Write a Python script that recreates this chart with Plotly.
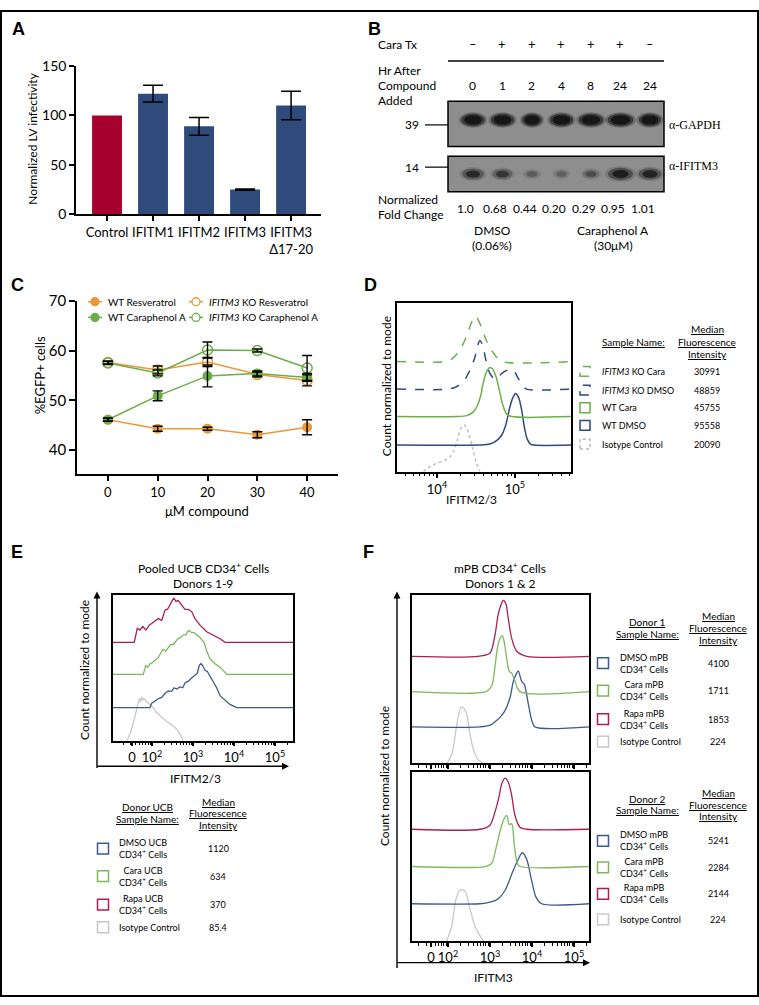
import plotly.graph_objects as go

W, H = 759, 1005
FONT = "Lato"
BOLD = "Liberation Sans"


def X(p):
    return p / W


def Y(p):
    return 1 - p / H


# ===================== DATA =====================
# ---- Panel A
A_CATEGORIES = ["Control", "IFITM1", "IFITM2", "IFITM3", "IFITM3<br>Δ17-20"]
A_VALUES = [100, 122, 89, 25, 110]
A_ERRORS = [0, 8.5, 9.0, 0.6, 14.5]
A_COLORS = ["#A6002E", "#2F4B7C", "#2F4B7C", "#2F4B7C", "#2F4B7C"]

# ---- Panel B
B_LANES = [0, 1, 2, 3, 4, 5, 6]
B_CARA_TX = ["–", "+", "+", "+", "+", "+", "–"]
B_HOURS = ["0", "1", "2", "4", "8", "24", "24"]
B_FOLD_LABELS = ["1.0", "0.68", "0.44", "0.20", "0.29", "0.95", "1.01"]
B_GAPDH_SIGNAL = [1.0, 1.0, 0.85, 1.0, 1.05, 1.1, 0.95]
B_IFITM3_SIGNAL = [0.85, 0.7, 0.35, 0.3, 0.45, 1.1, 0.95]

# ---- Panel C
C_DOSE = [0, 10, 20, 30, 40]
C_WT_RES = [46.1, 44.3, 44.3, 43.1, 44.6]
C_WT_RES_ERR = [0.3, 0.5, 0.3, 0.6, 1.5]
C_KO_RES = [57.6, 56.1, 57.7, 55.2, 54.0]
C_KO_RES_ERR = [0.3, 0.8, 0.9, 0.5, 1.1]
C_WT_CARA = [46.1, 50.9, 54.9, 55.4, 54.6]
C_WT_CARA_ERR = [0.3, 1.0, 2.2, 0.5, 0.8]
C_KO_CARA = [57.5, 55.5, 60.1, 60.0, 56.5]
C_KO_CARA_ERR = [0.3, 0.6, 1.6, 0.3, 2.5]

# ---- Panel D (log10 fluorescence, count in % of mode)
D_KO_CARA_LOG = [4.111, 4.188, 4.273, 4.329, 4.381, 4.432, 4.474, 4.5, 4.529, 4.573, 4.628, 4.701, 4.765, 4.829]
D_KO_CARA_CNT = [0, 5, 19, 34, 52, 75, 90, 93, 85, 69, 45, 23, 9, 0]
D_KO_DMSO_LOG = [4.145, 4.253, 4.359, 4.432, 4.487, 4.522, 4.551, 4.586, 4.628, 4.679, 4.744, 4.799, 4.859, 4.936, 4.987, 5.042, 5.099, 5.15]
D_KO_DMSO_CNT = [0, 5, 20, 42, 65, 89, 99, 89, 59, 32, 20, 27, 35, 40, 37, 22, 7, 0]
D_WT_CARA_LOG = [4.253, 4.381, 4.465, 4.517, 4.56, 4.603, 4.645, 4.679, 4.714, 4.756, 4.799, 4.842, 4.894, 4.958]
D_WT_CARA_CNT = [0, 2, 9, 22, 42, 75, 94, 100, 97, 82, 55, 25, 5, 0]
D_WT_DMSO_LOG = [4.551, 4.679, 4.765, 4.829, 4.885, 4.927, 4.97, 5.009, 5.047, 5.086, 5.119, 5.158, 5.201, 5.244]
D_WT_DMSO_CNT = [0, 2, 9, 20, 42, 72, 95, 105, 97, 72, 39, 12, 2, 0]
D_ISO_LOG = [3.824, 3.91, 3.996, 4.103, 4.167, 4.218, 4.26, 4.304, 4.346, 4.381, 4.414, 4.458, 4.5, 4.551]
D_ISO_CNT = [0, 10, 17, 23, 30, 43, 63, 87, 95, 90, 73, 47, 20, 0]
D_NAMES = ["<i>IFITM3</i> KO Cara", "<i>IFITM3</i> KO DMSO", "WT Cara", "WT DMSO", "Isotype Control"]
D_MFI = ["30991", "48859", "45755", "95558", "20090"]

# ---- Panel E (log10 fluorescence, count in % of mode)
E_RAPA_LOG = [1.568, 1.641, 1.707, 1.773, 1.854, 1.934, 2.017, 2.073, 2.154, 2.237, 2.317, 2.383, 2.456, 2.505, 2.537,
              2.585, 2.641, 2.724, 2.805, 2.885, 2.968, 3.049, 3.171, 3.334, 3.495, 3.659, 3.78]
E_RAPA_CNT = [0, 32, 28, 36, 28, 39, 45, 47, 54, 50, 73, 76, 90, 97, 100, 93, 95, 84, 75, 75, 70, 54, 39, 24, 17, 8, 0]
E_CARA_LOG = [1.788, 1.846, 1.895, 1.951, 2.017, 2.073, 2.154, 2.237, 2.276, 2.334, 2.383, 2.456, 2.52, 2.578, 2.641,
              2.7, 2.763, 2.829, 2.871, 2.91, 2.968, 3.024, 3.09, 3.154, 3.212, 3.268, 3.334, 3.415, 3.537, 3.7, 3.822]
E_CARA_CNT = [0, 20, 16, 24, 27, 32, 38, 53, 57, 53, 60, 68, 68, 75, 82, 84, 90, 90, 98, 100, 95, 95, 90, 86, 79, 73,
              54, 35, 24, 13, 0]
E_DMSO_LOG = [1.951, 1.993, 2.073, 2.154, 2.237, 2.317, 2.398, 2.48, 2.537, 2.602, 2.683, 2.749, 2.805, 2.885, 2.968,
              3.049, 3.105, 3.154, 3.195, 3.237, 3.293, 3.349, 3.415, 3.495, 3.578, 3.659, 3.78, 3.902, 4.066]
E_DMSO_CNT = [0, 10, 15, 20, 23, 32, 38, 37, 45, 42, 47, 45, 56, 60, 67, 74, 78, 96, 100, 95, 85, 82, 71, 60, 45, 27,
              16, 7, 0]
E_ISO_LOG = [1.39, 1.488, 1.561, 1.627, 1.69, 1.72, 1.749, 1.78, 1.805, 1.871, 1.951, 2.032, 2.115, 2.195, 2.276,
             2.366, 2.48, 2.602, 2.683, 2.756]
E_ISO_CNT = [0, 21, 47, 69, 96, 88, 100, 92, 96, 89, 82, 75, 64, 58, 50, 43, 36, 26, 15, 0]
E_NAMES = ["DMSO UCB<br>CD34<sup>+</sup> Cells", "Cara UCB<br>CD34<sup>+</sup> Cells",
           "Rapa UCB<br>CD34<sup>+</sup> Cells", "Isotype Control"]
E_MFI = ["1120", "634", "370", "85.4"]

# ---- Panel F (log10 fluorescence, count in % of mode)
F1_RAPA_LOG = [2.714, 3.0, 3.119, 3.19, 3.255, 3.317, 3.381, 3.436, 3.517, 3.636, 3.874]
F1_RAPA_CNT = [0, 6, 38, 73, 91, 100, 93, 67, 32, 9, 0]
F1_CARA_LOG = [2.905, 3.04, 3.119, 3.174, 3.238, 3.293, 3.34, 3.398, 3.46, 3.517, 3.595, 3.714]
F1_CARA_CNT = [0, 10, 45, 77, 95, 100, 88, 59, 36, 33, 19, 0]
F1_DMSO_LOG = [2.762, 3.0, 3.119, 3.238, 3.357, 3.476, 3.555, 3.636, 3.674, 3.755, 3.817, 3.912, 3.993, 4.071]
F1_DMSO_CNT = [0, 3, 9, 17, 29, 52, 81, 96, 100, 81, 76, 41, 12, 0]
F1_ISO_LOG = [1.976, 2.095, 2.19, 2.262, 2.31, 2.381, 2.452, 2.524, 2.619, 2.714, 2.833]
F1_ISO_CNT = [0, 17, 60, 90, 100, 98, 86, 52, 21, 7, 0]

F2_RAPA_LOG = [2.762, 3.0, 3.119, 3.221, 3.279, 3.357, 3.436, 3.517, 3.595, 3.714, 3.874]
F2_RAPA_CNT = [0, 8, 34, 66, 89, 100, 92, 66, 27, 4, 0]
F2_CARA_LOG = [2.881, 3.04, 3.159, 3.255, 3.333, 3.398, 3.46, 3.517, 3.579, 3.65, 3.714]
F2_CARA_CNT = [0, 6, 42, 74, 93, 100, 82, 84, 42, 6, 0]
F2_DMSO_LOG = [2.762, 3.0, 3.198, 3.357, 3.517, 3.636, 3.769, 3.874, 3.993, 4.095, 4.231]
F2_DMSO_CNT = [0, 3, 10, 26, 58, 81, 100, 87, 45, 13, 0]
F2_ISO_LOG = [1.969, 2.088, 2.19, 2.286, 2.405, 2.507, 2.643, 2.84]
F2_ISO_CNT = [0, 29, 82, 100, 98, 69, 29, 0]

F_NAMES = ["DMSO mPB<br>CD34<sup>+</sup> Cells", "Cara mPB<br>CD34<sup>+</sup> Cells",
           "Rapa mPB<br>CD34<sup>+</sup> Cells", "Isotype Control"]
F1_MFI = ["4100", "1711", "1853", "224"]
F2_MFI = ["5241", "2284", "2144", "224"]

# ===================== STYLE =====================
ORANGE = "#EA9839"
GREEN_C = "#6BAD48"
D_BLUE = "#2E4A7E"
D_GREEN = "#6AB04B"
D_GRAY = "#B5B5B5"
E_BLUE = "#3B5A8E"
E_GREEN = "#7DB85B"
E_RED = "#AA1F4C"
E_GRAY = "#C8C8C8"

fig = go.Figure()

# ---------------- Panel A ----------------
fig.add_trace(go.Bar(x=A_CATEGORIES, y=A_VALUES, marker=dict(color=A_COLORS, line=dict(width=0)),
                     width=0.65, xaxis="x", yaxis="y", showlegend=False, hoverinfo="skip"))
fig.add_trace(go.Scatter(x=A_CATEGORIES[1:], y=A_VALUES[1:], mode="markers",
                         marker=dict(size=1, color="rgba(0,0,0,0)"),
                         error_y=dict(type="data", array=A_ERRORS[1:], color="black", thickness=1.5, width=10),
                         xaxis="x", yaxis="y", showlegend=False, hoverinfo="skip"))

# ---------------- Panel B helper axis ----------------
fig.add_trace(go.Scatter(x=B_LANES, y=[0.5] * len(B_LANES), mode="markers",
                         marker=dict(size=1, color="rgba(0,0,0,0)"), xaxis="x7", yaxis="y7",
                         showlegend=False, hoverinfo="skip"))

# ---------------- Panel C ----------------
c_series = [
    ("WT Resveratrol", C_WT_RES, C_WT_RES_ERR, ORANGE, False),
    ("<i>IFITM3</i> KO Resveratrol", C_KO_RES, C_KO_RES_ERR, ORANGE, True),
    ("WT Caraphenol A", C_WT_CARA, C_WT_CARA_ERR, GREEN_C, False),
    ("<i>IFITM3</i> KO Caraphenol A", C_KO_CARA, C_KO_CARA_ERR, GREEN_C, True),
]
for name, vals, errs, col, is_open in c_series:
    fig.add_trace(go.Scatter(x=C_DOSE, y=vals, mode="lines+markers", name=name, showlegend=False,
                             line=dict(color=col, width=1.5),
                             marker=dict(symbol="circle-open" if is_open else "circle", size=10, color=col,
                                         line=dict(width=1.5 if is_open else 0, color=col)),
                             xaxis="x2", yaxis="y2", hoverinfo="skip"))
for name, vals, errs, col, is_open in c_series:
    fig.add_trace(go.Scatter(x=C_DOSE, y=vals, mode="markers", marker=dict(size=1, color="rgba(0,0,0,0)"),
                             error_y=dict(type="data", array=errs, color="black", thickness=1.4, width=5),
                             xaxis="x2", yaxis="y2", showlegend=False, hoverinfo="skip"))


# ---------------- histogram helper ----------------
def hist(logs, cnts, offset, color, xa, ya, rng=None, dash="solid", width=1.5, shape="spline"):
    xs = [10 ** v for v in logs]
    ys = [offset + c for c in cnts]
    if rng is not None:
        xs = [10 ** rng[0]] + xs + [10 ** rng[1]]
        ys = [offset] + ys + [offset]
    fig.add_trace(go.Scatter(x=xs, y=ys, mode="lines",
                             line=dict(color=color, width=width, dash=dash, shape=shape, smoothing=0.8),
                             xaxis=xa, yaxis=ya, showlegend=False, hoverinfo="skip"))


# Panel D
D_RANGE = [3.487, 5.72]
hist(D_ISO_LOG, D_ISO_CNT, 0, D_GRAY, "x3", "y3", dash="dot", width=1.3)
hist(D_WT_DMSO_LOG, D_WT_DMSO_CNT, 54, D_BLUE, "x3", "y3", D_RANGE)
hist(D_WT_CARA_LOG, D_WT_CARA_CNT, 112, D_GREEN, "x3", "y3", D_RANGE)
hist(D_KO_DMSO_LOG, D_KO_DMSO_CNT, 168, D_BLUE, "x3", "y3", D_RANGE, dash="dash")
hist(D_KO_CARA_LOG, D_KO_CARA_CNT, 224, D_GREEN, "x3", "y3", D_RANGE, dash="dash")

# Panel E
E_RANGE = [1.049, 5.439]
hist(E_ISO_LOG, E_ISO_CNT, 0, E_GRAY, "x4", "y4", shape="linear", width=1.3)
hist(E_DMSO_LOG, E_DMSO_CNT, 75.5, E_BLUE, "x4", "y4", E_RANGE, shape="linear", width=1.3)
hist(E_CARA_LOG, E_CARA_CNT, 151, E_GREEN, "x4", "y4", E_RANGE, shape="linear", width=1.3)
hist(E_RAPA_LOG, E_RAPA_CNT, 224, E_RED, "x4", "y4", E_RANGE, shape="linear", width=1.3)

# Panel F
F_RANGE = [1.143, 5.357]
hist(F1_ISO_LOG, F1_ISO_CNT, 0, E_GRAY, "x5", "y5", width=1.3)
hist(F1_DMSO_LOG, F1_DMSO_CNT, 65, E_BLUE, "x5", "y5", F_RANGE, width=1.3)
hist(F1_CARA_LOG, F1_CARA_CNT, 128, E_GREEN, "x5", "y5", F_RANGE, width=1.3)
hist(F1_RAPA_LOG, F1_RAPA_CNT, 191, E_RED, "x5", "y5", F_RANGE, width=1.3)
hist(F2_ISO_LOG, F2_ISO_CNT, 0, E_GRAY, "x6", "y6", width=1.3)
hist(F2_DMSO_LOG, F2_DMSO_CNT, 73, E_BLUE, "x6", "y6", F_RANGE, width=1.3)
hist(F2_CARA_LOG, F2_CARA_CNT, 146, E_GREEN, "x6", "y6", F_RANGE, width=1.3)
hist(F2_RAPA_LOG, F2_RAPA_CNT, 219, E_RED, "x6", "y6", F_RANGE, width=1.3)

# ===================== AXES =====================
tickfont = dict(family=FONT, size=13, color="black")
base_axis = dict(showgrid=False, zeroline=False, showline=True, linecolor="black", linewidth=1.5,
                 tickcolor="black", tickwidth=1.5, tickfont=tickfont)


def minor_vals(lo, hi):
    out = []
    for d in range(lo, hi):
        for m in range(2, 10):
            out.append(m * 10 ** d)
    return out


layout_axes = dict(
    xaxis=dict(base_axis, domain=[X(76), X(321)], range=[-0.674, 4.65], anchor="y", ticks="outside", ticklen=5),
    yaxis=dict(base_axis, domain=[Y(208), Y(57)], range=[0, 150], anchor="x", ticks="outside", ticklen=5,
               tickvals=[0, 50, 100, 150], tickfont=dict(family=FONT, size=14, color="black")),
    xaxis2=dict(base_axis, domain=[X(77), X(338)], range=[-6.2, 46.2], anchor="y2", ticks="outside", ticklen=6,
                tickvals=C_DOSE, tickfont=dict(family=FONT, size=13, color="black")),
    yaxis2=dict(base_axis, domain=[Y(472), Y(296)], range=[35.3, 70], anchor="x2", ticks="outside", ticklen=6,
                tickvals=[40, 50, 60, 70], tickfont=dict(family=FONT, size=15, color="black")),
    xaxis3=dict(base_axis, type="log", domain=[X(397), X(571)], range=D_RANGE, anchor="y3", mirror=True,
                ticks="outside", ticklen=5, tickvals=[1e4, 1e5],
                ticktext=["10<sup>4</sup>", "10<sup>5</sup>"],
                minor=dict(tickvals=minor_vals(3, 6), ticks="outside", ticklen=3, tickcolor="black", tickwidth=1)),
    yaxis3=dict(base_axis, domain=[Y(470), Y(298)], range=[0, 344], anchor="x3", mirror=True,
                showticklabels=False, ticks=""),
    xaxis4=dict(base_axis, type="log", domain=[X(113), X(293)], range=E_RANGE, anchor="y4", mirror=True,
                ticks="outside", ticklen=4, tickvals=[10 ** 1.512, 1e2, 1e3, 1e4, 1e5],
                ticktext=["0", "10<sup>2</sup>", "10<sup>3</sup>", "10<sup>4</sup>", "10<sup>5</sup>"],
                minor=dict(tickvals=minor_vals(1, 6), ticks="outside", ticklen=3, tickcolor="black", tickwidth=1)),
    yaxis4=dict(base_axis, domain=[Y(744), Y(596)], range=[0, 331], anchor="x4", mirror=True,
                showticklabels=False, ticks=""),
    xaxis5=dict(base_axis, type="log", domain=[X(412), X(589)], range=F_RANGE, anchor="y5", mirror=True,
                ticks="outside", ticklen=4, tickvals=[10 ** 1.595, 1e2, 1e3, 1e4, 1e5], showticklabels=False,
                minor=dict(tickvals=minor_vals(1, 6), ticks="outside", ticklen=3, tickcolor="black", tickwidth=1)),
    yaxis5=dict(base_axis, domain=[Y(767), Y(596)], range=[0, 300], anchor="x5", mirror=True,
                showticklabels=False, ticks=""),
    xaxis6=dict(base_axis, type="log", domain=[X(412), X(589)], range=F_RANGE, anchor="y6", mirror=True,
                ticks="outside", ticklen=4, tickvals=[10 ** 1.595, 1e2, 1e3, 1e4, 1e5],
                ticktext=["0", "10<sup>2</sup>", "10<sup>3</sup>", "10<sup>4</sup>", "10<sup>5</sup>"],
                minor=dict(tickvals=minor_vals(1, 6), ticks="outside", ticklen=3, tickcolor="black", tickwidth=1)),
    yaxis6=dict(base_axis, domain=[Y(948), Y(776)], range=[0, 331], anchor="x6", mirror=True,
                showticklabels=False, ticks=""),
    xaxis7=dict(domain=[X(448), X(664)], range=[-0.847, 6.475], anchor="y7", visible=False),
    yaxis7=dict(domain=[Y(185), Y(93)], range=[0, 1], anchor="x7", visible=False),
)

# ===================== SHAPES =====================
shapes = []
# outer frame
shapes.append(dict(type="rect", xref="paper", yref="paper", x0=X(1), x1=X(758), y0=Y(1004), y1=Y(1),
                   line=dict(color="black", width=2), fillcolor="rgba(0,0,0,0)"))

# Panel B: rule under treatment row
shapes.append(dict(type="line", xref="paper", yref="paper", x0=X(448), x1=X(664), y0=Y(52), y1=Y(52),
                   line=dict(color="black", width=1.5)))
# MW marker lines
for yy in (117, 160):
    shapes.append(dict(type="line", xref="paper", yref="paper", x0=X(425), x1=X(448), y0=Y(yy), y1=Y(yy),
                       line=dict(color="black", width=1.2)))
# blot boxes
for (t, b) in ((93, 139), (149, 185)):
    shapes.append(dict(type="rect", xref="paper", yref="paper", x0=X(448), x1=X(664), y0=Y(b), y1=Y(t),
                       fillcolor="#8E8E8E", line=dict(color="black", width=1.5)))
GAPDH_ROW, IFITM3_ROW = 112, 167
for lane, s in zip(B_LANES, B_GAPDH_SIGNAL):
    hw, hh = 0.40 * s, 6.5
    for sc, op in ((1.2, 0.25), (1.0, 0.55), (0.75, 0.9)):
        shapes.append(dict(type="circle", xref="x7", yref="paper", x0=lane - hw * sc, x1=lane + hw * sc,
                           y0=Y(GAPDH_ROW + hh * sc), y1=Y(GAPDH_ROW - hh * sc),
                           fillcolor=f"rgba(18,18,18,{op})", line=dict(width=0)))
for lane, s in zip(B_LANES, B_IFITM3_SIGNAL):
    hw, hh = 0.2 + 0.2 * s, 3.5 + 2.5 * s
    for sc, op in ((1.25, 0.15 * s), (1.0, 0.4 * s), (0.65, 0.8 * min(s, 1.0))):
        shapes.append(dict(type="circle", xref="x7", yref="paper", x0=lane - hw * sc, x1=lane + hw * sc,
                           y0=Y(IFITM3_ROW + hh * sc), y1=Y(IFITM3_ROW - hh * sc),
                           fillcolor=f"rgba(18,18,18,{op:.3f})", line=dict(width=0)))


def square(cx, cy, color, dash="solid", size=10):
    shapes.append(dict(type="rect", xref="paper", yref="paper", x0=X(cx - size / 2), x1=X(cx + size / 2),
                       y0=Y(cy + size / 2), y1=Y(cy - size / 2), fillcolor="rgba(0,0,0,0)",
                       line=dict(color=color, width=1.5, dash=dash)))


# Panel C legend keys (short line + circle)
C_LEG_POS = [(95, 297), (196, 297), (95, 313), (196, 313)]
for (cx, cy), (name, vals, errs, col, is_open) in zip(C_LEG_POS, c_series):
    shapes.append(dict(type="line", xref="paper", yref="paper", x0=X(cx - 7), x1=X(cx + 7), y0=Y(cy), y1=Y(cy),
                       line=dict(color=col, width=1.5)))
    shapes.append(dict(type="circle", xref="paper", yref="paper", x0=X(cx - 4), x1=X(cx + 4),
                       y0=Y(cy + 4), y1=Y(cy - 4), fillcolor="white" if is_open else col,
                       line=dict(color=col, width=1.3)))

# D legend squares
D_ROWS = [368, 387, 405, 423, 442]
D_SQ_STYLE = [(D_GREEN, "dash"), (D_BLUE, "dash"), (D_GREEN, "solid"), (D_BLUE, "solid"), (D_GRAY, "dot")]
for yy, (c, d) in zip(D_ROWS, D_SQ_STYLE):
    square(585, yy, c, d)

# E legend squares
E_ROWS = [854, 882, 911, 934]
E_SQ_COL = [E_BLUE, E_GREEN, E_RED, E_GRAY]
for yy, c in zip(E_ROWS, E_SQ_COL):
    square(103, yy, c, size=11)

# F legend squares
F1_ROWS = [665, 693, 722, 745]
F2_ROWS = [846, 873, 900, 926]
for yy, c in zip(F1_ROWS, E_SQ_COL):
    square(603, yy, c, size=11)
for yy, c in zip(F2_ROWS, E_SQ_COL):
    square(603, yy, c, size=11)

# ===================== ANNOTATIONS =====================
ann = []


def txt(x, y, s, size=11, anchor="center", angle=0, family=FONT, xref="paper", xshift=0):
    ann.append(dict(x=X(x) if xref == "paper" else x, y=Y(y), xref=xref, yref="paper", text=s,
                    showarrow=False, textangle=angle, xanchor=anchor, yanchor="middle", xshift=xshift,
                    font=dict(family=family, size=size, color="black")))


def ul(s):
    return f'<span style="text-decoration:underline">{s}</span>'


# panel letters
for letter, x, y in (("A", 18, 19), ("B", 374, 19), ("C", 17, 280), ("D", 370, 280), ("E", 17, 552),
                     ("F", 368, 552)):
    txt(x, y, f"<b>{letter}</b>", size=18, family=BOLD)

# Panel A
txt(33, 131, "Normalized LV infectivity", size=12, angle=-90)

# Panel B
txt(376, 35, "Cara Tx", size=12, anchor="left")
for lane, s in zip(B_LANES, B_CARA_TX):
    txt(lane, 35, s, size=13, xref="x7")
txt(376, 62, "Hr After", size=12, anchor="left")
txt(376, 77, "Compound", size=12, anchor="left")
txt(376, 92, "Added", size=12, anchor="left")
for lane, s in zip(B_LANES, B_HOURS):
    txt(lane, 77, s, size=12, xref="x7")
txt(421, 117, "39", size=12, anchor="right")
txt(421, 160, "14", size=12, anchor="right")
txt(667, 117, "α-GAPDH", size=12, anchor="left", family="Liberation Serif")
txt(667, 159, "α-IFITM3", size=12, anchor="left", family="Liberation Serif")
txt(376, 193, "Normalized", size=12, anchor="left")
txt(376, 208, "Fold Change", size=12, anchor="left")
for lane, s in zip(B_LANES, B_FOLD_LABELS):
    txt(lane, 202, s, size=12, xref="x7", xshift=-7)
txt(492, 225, "DMSO", size=12)
txt(492, 240, "(0.06%)", size=12)
txt(613, 225, "Caraphenol A", size=12)
txt(613, 240, "(30μM)", size=12)

# Panel C
txt(40, 372, "%EGFP+ cells", size=13, angle=-90)
txt(207, 510, "μM compound", size=13)
for (cx, cy), (name, vals, errs, col, is_open) in zip(C_LEG_POS, c_series):
    txt(cx + 11, cy, name, size=10, anchor="left")

# Panel D
txt(386, 383, "Count normalized to mode", size=12, angle=-90)
txt(471, 498, "IFITM2/3", size=12)
txt(633, 338, ul("Sample Name:"), size=10)
txt(707, 325, ul("Median"), size=10)
txt(707, 338, ul("Fluorescence"), size=10)
txt(707, 350, ul("Intensity"), size=10)
for yy, n, v in zip(D_ROWS, D_NAMES, D_MFI):
    txt(600, yy, n, size=9, anchor="left")
    txt(707, yy, v, size=9)

# Panel E
txt(203, 568, "Pooled UCB CD34<sup>+</sup> Cells", size=12)
txt(203, 584, "Donors 1-9", size=12)
txt(85, 672, "Count normalized to mode", size=12, angle=-90)
txt(195, 783, "IFITM2/3", size=12)
txt(147, 812, ul("Donor UCB"), size=10)
txt(147, 824, ul("Sample Name:"), size=10)
txt(218, 806, ul("Median"), size=10)
txt(218, 818, ul("Fluorescence"), size=10)
txt(218, 830, ul("Intensity"), size=10)
for yy, n, v in zip(E_ROWS, E_NAMES, E_MFI):
    txt(117, yy, n, size=9, anchor="left")
    txt(218, yy, v, size=9)

# Panel F
txt(500, 568, "mPB CD34<sup>+</sup> Cells", size=12)
txt(500, 584, "Donors 1 &amp; 2", size=12)
txt(384, 780, "Count normalized to mode", size=12, angle=-90)
txt(493, 985, "IFITM3", size=12)
for (hy, rows, mfi, donor) in ((623, F1_ROWS, F1_MFI, "Donor 1"), (803, F2_ROWS, F2_MFI, "Donor 2")):
    txt(647, hy, ul(donor), size=10)
    txt(647, hy + 12, ul("Sample Name:"), size=10)
    txt(718, hy - 6, ul("Median"), size=10)
    txt(718, hy + 6, ul("Fluorescence"), size=10)
    txt(718, hy + 18, ul("Intensity"), size=10)
    for yy, n, v in zip(rows, F_NAMES, mfi):
        txt(618, yy, n, size=9, anchor="left")
        txt(718, yy, v, size=9)


# arrows (axes of flow plots)
def arrow(hx, hy, tx, ty):
    ann.append(dict(x=X(hx), y=Y(hy), xref="paper", yref="paper", ax=tx - hx, ay=ty - hy,
                    axref="pixel", ayref="pixel", text="", showarrow=True, arrowhead=2, arrowsize=1,
                    arrowwidth=1.4, arrowcolor="black"))


arrow(97, 592, 97, 770)
arrow(289, 770, 96, 770)
arrow(397, 592, 397, 970)
arrow(590, 970, 396, 970)

fig.update_layout(
    width=W, height=H, margin=dict(l=0, r=0, t=0, b=0),
    paper_bgcolor="white", plot_bgcolor="white",
    font=dict(family=FONT, color="black"),
    shapes=shapes, annotations=ann, showlegend=False,
    **layout_axes,
)

PAGE_FIX = (
    "document.documentElement.style.margin='0';document.body.style.margin='0';"
    "document.body.style.padding='0';document.documentElement.style.overflow='hidden';"
    "var g=document.getElementsByClassName('plotly-graph-div')[0];"
    "if(g){g.style.position='fixed';g.style.top='0px';g.style.left='0px';}"
)
fig.write_html("out.html", config={"displayModeBar": False}, post_script=PAGE_FIX)
